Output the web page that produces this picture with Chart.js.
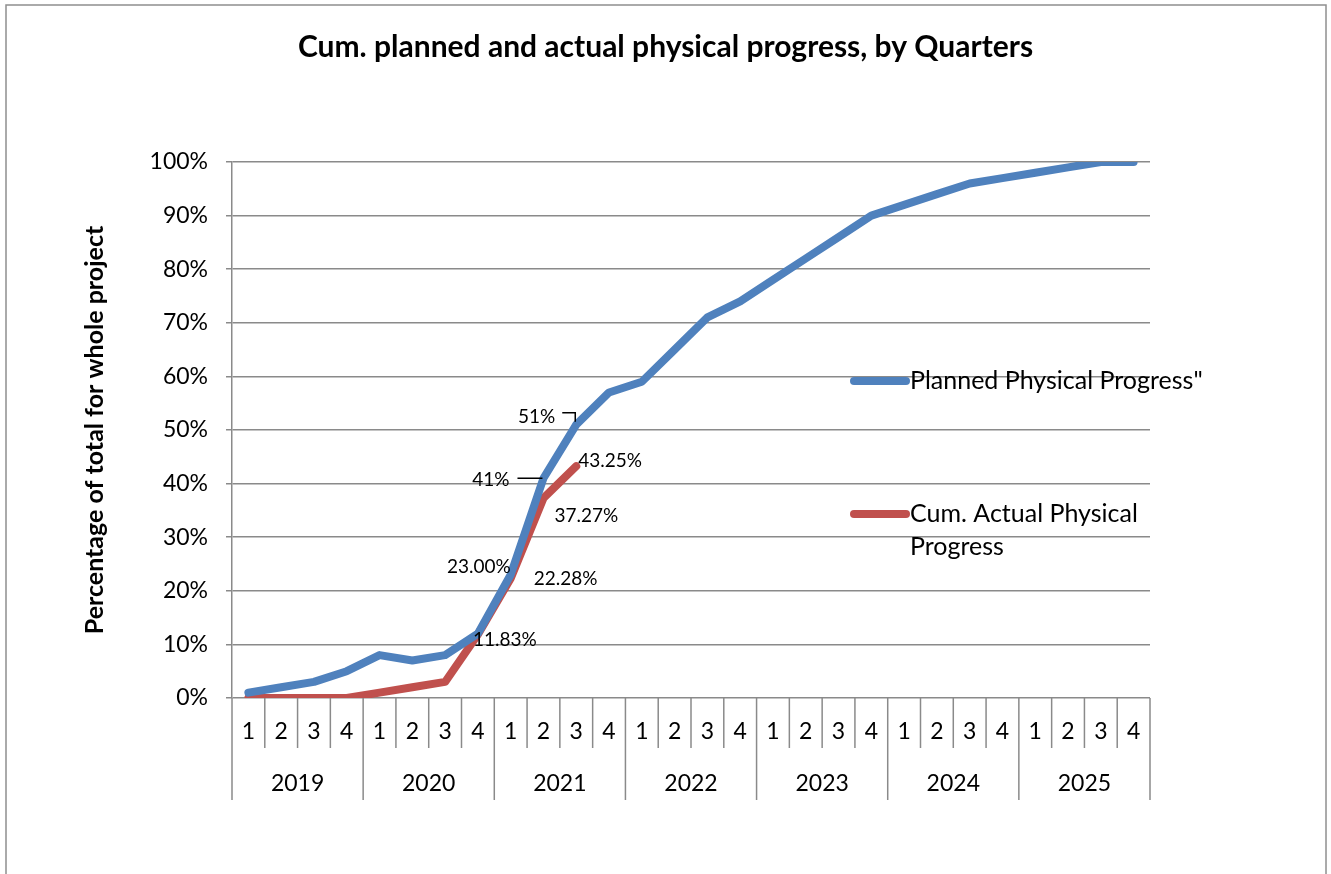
<!DOCTYPE html>
<html>
<head>
<meta charset="utf-8">
<title>Cum. planned and actual physical progress</title>
<script src="https://cdn.jsdelivr.net/npm/chart.js@4.4.0/dist/chart.umd.min.js"></script>
<style>
  html, body { margin: 0; padding: 0; background: #fff; }
  #wrap { width: 1331px; height: 874px; position: relative; }
</style>
</head>
<body>
<div id="wrap"><canvas id="progressChart"></canvas></div>
<script>
// data (percent of whole project)
const years = ["2019", "2020", "2021", "2022", "2023", "2024", "2025"];
const quarters = ["1", "2", "3", "4"];
const planned = [1, 2, 3, 5, 8, 7, 8, 12, 23, 41, 51, 57, 59, 65, 71, 74, 78, 82, 86, 90, 92, 94, 96, 97, 98, 99, 100, 100];
const actual = [0, 0, 0, 0, 1, 2, 3, 11.83, 22.28, 37.27, 43.25];
const yTicks = [0, 10, 20, 30, 40, 50, 60, 70, 80, 90, 100];
const seriesNames = ["Planned Physical Progress\"", "Cum. Actual Physical Progress"];
// point labels shown on the picture: [series, index, text]
const pointLabels = [
  [0, 8, "23.00%"],
  [0, 9, "41%"],
  [0, 10, "51%"],
  [1, 7, "11.83%"],
  [1, 8, "22.28%"],
  [1, 9, "37.27%"],
  [1, 10, "43.25%"],
];

const FONT = "Lato, 'Open Sans', sans-serif";
const GRID = "#8a8a8a";
const COLORS = ["#4F81BD", "#C0504D"];

// category labels = year x quarter
const labels = [];
years.forEach((y) => quarters.forEach((q) => labels.push(q)));

// where each label sits relative to its point (dx, dy, align, leader)
const labelPlace = {
  "23.00%": { dx: 0, dy: -8, align: "right" },
  "41%": { dx: -34, dy: 2, align: "right", leader: [[-26, 0], [-1, 0]] },
  "51%": { dx: -21, dy: -8, align: "right", leader: [[-14, -12], [-1, -12], [-1, -3]] },
  "11.83%": { dx: -5, dy: 5, align: "left" },
  "22.28%": { dx: 23, dy: 0, align: "left" },
  "37.27%": { dx: 11, dy: 18, align: "left" },
  "43.25%": { dx: 2, dy: -5, align: "left" },
};

const framePlugin = {
  id: "frame",
  beforeDraw(chart) {
    const { ctx, width, height } = chart;
    ctx.save();
    ctx.fillStyle = "#fff";
    ctx.fillRect(0, 0, width, height);
    ctx.strokeStyle = "#8f8f8f";
    ctx.lineWidth = 1.5;
    ctx.strokeRect(6, 5, 1320, height + 10);
    ctx.restore();
  },
};

// two-row category axis: quarters then years
const quarterAxisPlugin = {
  id: "quarterAxis",
  afterDraw(chart) {
    const { ctx, chartArea } = chart;
    const x = chart.scales.x;
    const n = labels.length;
    const half = (x.getPixelForValue(1) - x.getPixelForValue(0)) / 2;
    const bottom = chartArea.bottom;
    ctx.save();
    ctx.strokeStyle = GRID;
    ctx.lineWidth = 1.5;
    for (let i = 0; i <= n; i++) {
      const px = x.getPixelForValue(Math.min(i, n - 1)) + (i < n ? -half : half);
      const len = i % quarters.length === 0 ? 102 : 50;
      ctx.beginPath();
      ctx.moveTo(px, bottom);
      ctx.lineTo(px, bottom + len);
      ctx.stroke();
    }
    ctx.fillStyle = "#000";
    ctx.textAlign = "center";
    ctx.textBaseline = "middle";
    ctx.font = "23px " + FONT;
    labels.forEach((q, i) => ctx.fillText(q, x.getPixelForValue(i), bottom + 34));
    years.forEach((y, k) => {
      const a = x.getPixelForValue(k * 4) - half;
      const b = x.getPixelForValue(k * 4 + 3) + half;
      ctx.fillText(y, (a + b) / 2, bottom + 86);
    });
    ctx.restore();
  },
};

const pointLabelPlugin = {
  id: "pointLabels",
  afterDatasetsDraw(chart) {
    const { ctx } = chart;
    ctx.save();
    ctx.font = "19px " + FONT;
    ctx.fillStyle = "#000";
    ctx.strokeStyle = "#000";
    ctx.lineWidth = 1.5;
    ctx.textBaseline = "middle";
    pointLabels.forEach(([ds, idx, text]) => {
      const pt = chart.getDatasetMeta(ds).data[idx];
      const p = labelPlace[text];
      if (!pt || !p) return;
      if (p.leader) {
        ctx.beginPath();
        p.leader.forEach(([lx, ly], j) => {
          const fn = j === 0 ? "moveTo" : "lineTo";
          ctx[fn](pt.x + lx, pt.y + ly);
        });
        ctx.stroke();
      }
      ctx.textAlign = p.align;
      ctx.fillText(text, pt.x + p.dx, pt.y + p.dy);
    });
    ctx.restore();
  },
};

const legendPlugin = {
  id: "sideLegend",
  afterDraw(chart) {
    const { ctx, chartArea } = chart;
    const x0 = chartArea.right - 300;
    const rows = [
      { y: chartArea.top + 219, lines: [seriesNames[0]] },
      { y: chartArea.top + 352, lines: ["Cum. Actual Physical", "Progress"] },
    ];
    ctx.save();
    ctx.font = "25px " + FONT;
    ctx.textAlign = "left";
    ctx.textBaseline = "middle";
    rows.forEach((r, i) => {
      ctx.strokeStyle = COLORS[i];
      ctx.lineWidth = 8;
      ctx.lineCap = "round";
      ctx.beginPath();
      ctx.moveTo(x0 + 4, r.y);
      ctx.lineTo(x0 + 56, r.y);
      ctx.stroke();
      ctx.fillStyle = "#000";
      r.lines.forEach((t, j) => ctx.fillText(t, x0 + 60, r.y + j * 33));
    });
    ctx.restore();
  },
};

new Chart(document.getElementById("progressChart"), {
  type: "line",
  data: {
    labels,
    datasets: [
      {
        label: seriesNames[0],
        data: planned,
        borderColor: COLORS[0],
        backgroundColor: COLORS[0],
        borderWidth: 8,
        pointRadius: 0,
        tension: 0,
        borderJoinStyle: "round",
        borderCapStyle: "round",
      },
      {
        label: seriesNames[1],
        data: actual,
        borderColor: COLORS[1],
        backgroundColor: COLORS[1],
        borderWidth: 8,
        pointRadius: 0,
        tension: 0,
        borderJoinStyle: "round",
        borderCapStyle: "round",
      },
    ],
  },
  options: {
    responsive: true,
    maintainAspectRatio: false,
    animation: false,
    layout: { padding: { left: 0, right: 0, top: 0, bottom: 66 } },
    plugins: {
      legend: { display: false },
      tooltip: { enabled: false },
      title: {
        display: true,
        text: "Cum. planned and actual physical progress, by Quarters",
        color: "#000",
        font: { family: FONT, size: 30, weight: "bold" },
        padding: { top: 29, bottom: 97 },
      },
    },
    scales: {
      x: {
        type: "category",
        offset: true,
        grid: { display: false },
        border: { display: false },
        ticks: { display: false },
        afterFit(scale) { scale.height = 110; },
      },
      y: {
        min: 0,
        max: 100,
        afterBuildTicks(scale) { scale.ticks = yTicks.map((v) => ({ value: v })); },
        ticks: {
          callback: (v) => v + "%",
          color: "#000",
          font: { family: FONT, size: 23 },
          padding: 18,
        },
        grid: { color: GRID, lineWidth: 1.5, tickLength: 6 },
        border: { color: GRID, width: 1.5 },
        title: {
          display: true,
          text: "Percentage of total for whole project",
          color: "#000",
          font: { family: FONT, size: 25, weight: "bold" },
          padding: { top: 80, bottom: 0 },
        },
        afterFit(scale) { scale.width = 232; },
      },
      // empty right-hand margin so the title centres on the whole frame
      yRight: {
        position: "right",
        min: 0,
        max: 100,
        grid: { display: false },
        border: { display: false },
        ticks: { display: false },
        afterFit(scale) { scale.width = 181; },
      },
    },
  },
  plugins: [framePlugin, quarterAxisPlugin, pointLabelPlugin, legendPlugin],
});
</script>
</body>
</html>
